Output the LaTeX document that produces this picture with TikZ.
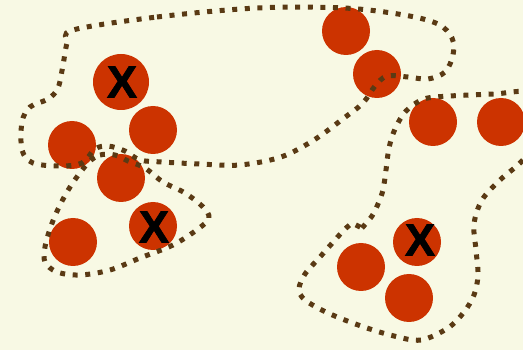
\documentclass[tikz,border=0pt]{standalone}
\usepackage{fontspec}
\newfontfamily\xfont[BoldFeatures={FakeBold=1.6}]{Liberation Sans}
\definecolor{bgc}{HTML}{F8F9E4}
\definecolor{ballc}{HTML}{CC3300}
\definecolor{dotc}{HTML}{5A3A14}
\begin{document}
\begin{tikzpicture}[x=1pt,y=-1pt,
  ball/.style={circle,fill=ballc,inner sep=0pt,minimum size=48pt},
  bigball/.style={ball,minimum size=56pt},
  xmark/.style={font=\xfont\bfseries\fontsize{45}{45}\selectfont,text=black,inner sep=0pt},
  dotline/.style={draw=dotc,line width=5pt,dash pattern=on 5pt off 7.6pt}]
\fill[bgc] (0,0) rectangle (523,350);
\useasboundingbox (0,0) rectangle (523,350);
\clip (0,0) rectangle (523,350);
% balls
\node[bigball] (a) at (121,82) {};
\node[ball] (b) at (153,130) {};
\node[ball] (c) at (72,145) {};
\node[ball] (d) at (121,178) {};
\node[ball] (e) at (73,242) {};
\node[ball] (f) at (153,226) {};
\node[ball] (g) at (346,31) {};
\node[ball] (h) at (377,74) {};
\node[ball] (i) at (433,122) {};
\node[ball] (j) at (501,122) {};
\node[ball] (k) at (361,267) {};
\node[ball] (l) at (417,242) {};
\node[ball] (m) at (409,298) {};
% marks
\node[xmark] (xa) at (122,82) {X};
\node[xmark] (xf) at (154,227) {X};
\node[xmark] (xl) at (420,240) {X};
% big top-left region
\draw[dotline] plot[smooth cycle,tension=0.55] coordinates {
 (73,30) (157,17) (257,8) (344,8) (404,15) (438,24) (452,38) (453,55) (445,72)
 (428,79) (408,77) (387,76) (375,86) (363,103) (344,118) (314,140) (281,157)
 (240,165) (200,164) (162,162) (140,160) (125,151) (108,146) (95,149) (82,163)
 (60,166) (33,163) (22,150) (22,122) (30,107) (48,99) (58,88) (63,65) (67,43)};
% lower-left triangle
\draw[dotline] plot[smooth cycle,tension=0.55] coordinates {
 (88,163) (100,155) (115,155) (128,161) (145,168) (163,182) (185,193) (203,207)
 (209,218) (198,229) (173,245) (140,258) (110,270) (80,275) (57,272) (45,262)
 (45,247) (51,226) (60,205) (72,184)};
% right region
\draw[dotline] plot[smooth,tension=0.55] coordinates {
 (362,228) (372,216) (378,204) (383,190) (386,170) (389,148) (395,129) (406,111)
 (424,99) (450,96) (494,94) (530,92) (548,110) (540,140) (520,163) (500,180)
 (482,200) (474,224) (476,250) (478,275) (474,295) (464,312) (448,328) (421,340)
 (394,336) (361,326) (328,313) (305,300) (299,289) (305,274) (320,257) (335,240)
 (344,230) (352,223)} -- (362,228);
\end{tikzpicture}
\end{document}
